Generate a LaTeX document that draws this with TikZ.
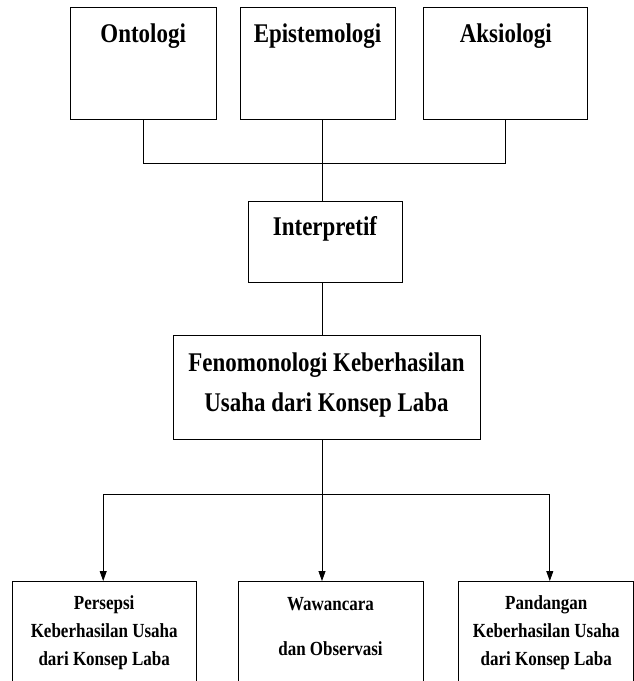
\documentclass[tikz,border=0pt]{standalone}
\usepackage{fontspec}
\usepackage{tikz}
\usetikzlibrary{positioning, arrows.meta, calc}
\newfontfamily\boxfont{Liberation Serif}[FakeStretch=0.85]
\newcommand{\bigtext}{\boxfont\bfseries\fontsize{27}{40}\selectfont}
\newcommand{\smalltext}{\boxfont\bfseries\fontsize{20}{28}\selectfont}

\begin{document}
\begin{tikzpicture}[
        x=1pt, y=1pt,
        block/.style={rectangle, draw, line width=0.8pt, inner sep=0pt, align=center},
        topblock/.style={block, font=\bigtext, text height=35pt, text depth=77pt},
        lowblock/.style={block, font=\smalltext, text height=84pt, text depth=27pt},
        line/.style={draw, line width=0.8pt},
        arrow/.style={line, -{Triangle[length=10pt, width=7pt]}}
    ]
        \useasboundingbox (0,0) rectangle (634,-681);
        \clip (0,0) rectangle (634,-681);

        % Paradigm
        \node[topblock, minimum width=155pt] (episteme) at (317.5,-63) {Epistemologi};
        \node[topblock, minimum width=146pt, left=23pt of episteme] (onto) {Ontologi};
        \node[topblock, minimum width=164pt, right=28pt of episteme] (aksio) {Aksiologi};

        % Approach
        \node[block, font=\bigtext, minimum width=154pt, text height=34pt, text depth=47pt,
            below=82pt of episteme, xshift=7.5pt] (interp) {Interpretif};

        % Method
        \node[block, font=\bigtext, minimum width=307pt, text height=76pt, text depth=28pt,
            below=52pt of interp, xshift=1.5pt] (fenom) {Fenomonologi Keberhasilan\\ Usaha dari Konsep Laba};

        % Results
        \node[lowblock, minimum width=185pt, text height=74pt, text depth=37pt,
            below=141pt of fenom, xshift=4pt] (wawancara) {Wawancara\\[17pt] dan Observasi};
        \node[lowblock, minimum width=184pt, left=41pt of wawancara] (persepsi) {Persepsi\\ Keberhasilan Usaha\\ dari Konsep Laba};
        \node[lowblock, minimum width=175pt, right=35pt of wawancara] (pandangan) {Pandangan\\ Keberhasilan Usaha\\ dari Konsep Laba};

        % Helper coordinates
        \coordinate (trunk) at (322,0);
        \coordinate[below=44pt of episteme] (topbus);
        \coordinate[below=54pt of fenom] (lowbus);

        % Lines
        \draw[line] (onto.south) -- (onto.south |- topbus) -- (aksio.south |- topbus) -- (aksio.south);
        \draw[line] (trunk |- episteme.south) -- (trunk |- interp.north);
        \draw[line] (trunk |- interp.south) -- (trunk |- fenom.north);

        % Arrows
        \draw[arrow] (trunk |- fenom.south) -- (trunk |- lowbus) -| ([xshift=-1pt]persepsi.north);
        \draw[arrow] (trunk |- lowbus) -| ([xshift=3.5pt]pandangan.north);
        \draw[arrow] (trunk |- lowbus) -- (trunk |- wawancara.north);
    \end{tikzpicture}
\end{document}
